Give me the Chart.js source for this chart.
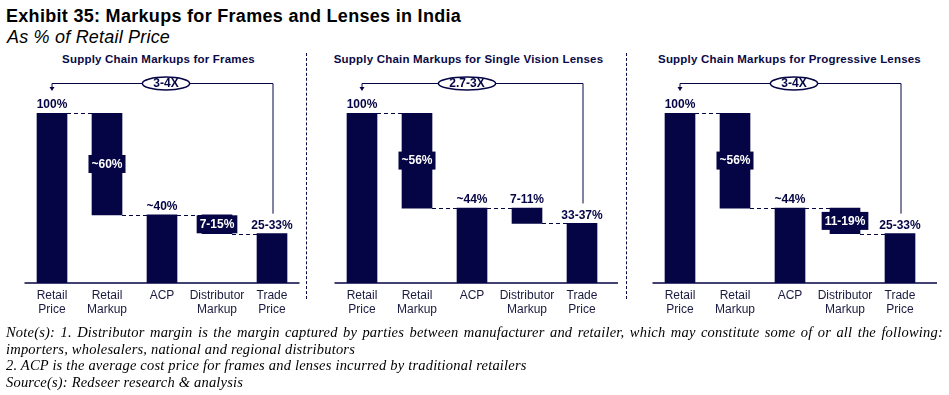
<!DOCTYPE html>
<html>
<head>
<meta charset="UTF-8">
<script src="https://cdn.jsdelivr.net/npm/chart.js@4"></script>
<style>
  body { margin: 0; width: 949px; height: 395px; background: #fff; position: relative; overflow: hidden; font-family: "Liberation Sans", Arial, sans-serif; }
  .title { position: absolute; left: 6px; top: 6px; font-size: 18px; letter-spacing: 0.3px; font-weight: bold; color: #000; }
  .subtitle { position: absolute; left: 7px; top: 27px; font-size: 18px; letter-spacing: 0.2px; font-style: italic; color: #000; }
  .ptitle { position: absolute; top: 53px; font-size: 11.5px; letter-spacing: 0.2px; font-weight: bold; color: #0a0a46; text-align: center; }
  .panel { position: absolute; top: 50px; height: 277px; }
  .divider { position: absolute; top: 53px; height: 246px; border-left: 1.5px dashed #0a0a46; }
  .notes { position: absolute; left: 6px; top: 324px; width: 937px; font-family: "Liberation Serif", "Times New Roman", serif; font-style: italic; font-size: 14.5px; letter-spacing: 0.2px; line-height: 16.7px; color: #000; }
  .notes .j { text-align: justify; text-align-last: justify; white-space: nowrap; }
</style>
</head>
<body>
<div class="title">Exhibit 35: Markups for Frames and Lenses in India</div>
<div class="subtitle">As % of Retail Price</div>

<div class="ptitle" style="left:0; width:317px;">Supply Chain Markups for Frames</div>
<div class="ptitle" style="left:310px; width:317px;">Supply Chain Markups for Single Vision Lenses</div>
<div class="ptitle" style="left:630px; width:319px;">Supply Chain Markups for Progressive Lenses</div>

<div class="panel" style="left:0; width:307px;"><canvas id="c1"></canvas></div>
<div class="panel" style="left:307px; width:320px;"><canvas id="c2"></canvas></div>
<div class="panel" style="left:627px; width:322px;"><canvas id="c3"></canvas></div>

<div class="divider" style="left:306px;"></div>
<div class="divider" style="left:626px;"></div>

<div class="notes">
  <div class="j">Note(s): 1. Distributor margin is the margin captured by parties between manufacturer and retailer, which may constitute some of or all the following:</div>
  <div>importers, wholesalers, national and regional distributors</div>
  <div>2. ACP is the average cost price for frames and lenses incurred by traditional retailers</div>
  <div>Source(s): Redseer research &amp; analysis</div>
</div>

<script>
const categories = [['Retail', 'Price'], ['Retail', 'Markup'], 'ACP', ['Distributor', 'Markup'], ['Trade', 'Price']];

// floating bars [low, high] as % of retail price
const framesBars = [[0, 100], [40, 100], [0, 40], [29, 40], [0, 29]];
const singleVisionBars = [[0, 100], [44, 100], [0, 44], [35, 44], [0, 35]];
const progressiveBars = [[0, 100], [44, 100], [0, 44], [29, 44], [0, 29]];

const framesLabels = ['100%', '~60%', '~40%', '7-15%', '25-33%'];
const singleVisionLabels = ['100%', '~56%', '~44%', '7-11%', '33-37%'];
const progressiveLabels = ['100%', '~56%', '~44%', '11-19%', '25-33%'];

// 'top' = text above bar, 'box' = white text in navy box on the bar
const framesLabelStyle = ['top', 'box', 'top', 'box', 'top'];
const singleVisionLabelStyle = ['top', 'box', 'top', 'top', 'top'];
const progressiveLabelStyle = ['top', 'box', 'top', 'box', 'top'];

const multiples = ['3-4X', '2.7-3X', '3-4X'];

const NAVY = '#050545';
const FONT = '"Liberation Sans", Arial, sans-serif';

const waterfallPlugin = {
  id: 'waterfall',
  afterDatasetsDraw(chart, args, opts) {
    const ctx = chart.ctx;
    const ys = chart.scales.y;
    const meta = chart.getDatasetMeta(0);
    const bars = chart.data.datasets[0].data;
    const area = chart.chartArea;
    ctx.save();

    // baseline
    ctx.strokeStyle = NAVY;
    ctx.lineWidth = 1.5;
    ctx.beginPath();
    ctx.moveTo(area.left, area.bottom);
    ctx.lineTo(area.right + opts.axisExt, area.bottom);
    ctx.stroke();

    // dashed connectors
    ctx.lineWidth = 1;
    ctx.setLineDash([4, 3]);
    for (let i = 0; i < bars.length - 1; i++) {
      const a = bars[i], b = bars[i + 1];
      const level = [a[0], a[1]].find(v => v === b[0] || v === b[1]);
      if (level === undefined) continue;
      const y = Math.round(ys.getPixelForValue(level)) + 0.5;
      const e1 = meta.data[i], e2 = meta.data[i + 1];
      ctx.beginPath();
      ctx.moveTo(e1.x + e1.width / 2, y);
      ctx.lineTo(e2.x - e2.width / 2, y);
      ctx.stroke();
    }
    ctx.setLineDash([]);

    // value labels
    ctx.font = 'bold 12px ' + FONT;
    ctx.textAlign = 'center';
    ctx.textBaseline = 'middle';
    meta.data.forEach((el, i) => {
      const txt = opts.labels[i];
      const top = ys.getPixelForValue(bars[i][1]);
      const bot = ys.getPixelForValue(bars[i][0]);
      if (opts.styles[i] === 'box') {
        const w = ctx.measureText(txt).width + 6;
        const cy = (top + bot) / 2;
        ctx.fillStyle = NAVY;
        ctx.fillRect(el.x - w / 2, cy - 9, w, 18);
        ctx.fillStyle = '#fff';
        ctx.fillText(txt, el.x, cy + 0.5);
      } else {
        ctx.fillStyle = NAVY;
        ctx.fillText(txt, el.x, top - 8);
      }
    });

    // bracket with multiple
    const first = meta.data[0], last = meta.data[meta.data.length - 1];
    const yb = 33.5;
    const yEnd = ys.getPixelForValue(bars[bars.length - 1][1]) - 20;
    ctx.strokeStyle = NAVY;
    ctx.lineWidth = 1;
    ctx.beginPath();
    ctx.moveTo(first.x, 38);
    ctx.lineTo(first.x, yb);
    ctx.lineTo(last.x + 1, yb);
    ctx.lineTo(last.x + 1, yEnd);
    ctx.stroke();
    ctx.fillStyle = NAVY;
    ctx.beginPath();
    ctx.moveTo(first.x - 2.5, 37);
    ctx.lineTo(first.x + 2.5, 37);
    ctx.lineTo(first.x, 41);
    ctx.closePath();
    ctx.fill();

    const mx = meta.data[2].x + opts.ovalShift;
    const tw = ctx.measureText(opts.multiple).width;
    const rx = tw / 2 + 11, ry = 6.5;
    ctx.beginPath();
    ctx.ellipse(mx, yb, rx, ry, 0, 0, Math.PI * 2);
    ctx.fillStyle = '#fff';
    ctx.fill();
    ctx.lineWidth = 1.5;
    ctx.stroke();
    ctx.fillStyle = NAVY;
    ctx.fillText(opts.multiple, mx, yb + 0.5);
    ctx.restore();
  }
};

function makeChart(id, bars, labels, styles, multiple, pad, axisExt, ovalShift) {
  return new Chart(document.getElementById(id), {
    type: 'bar',
    data: {
      labels: categories,
      datasets: [{
        data: bars,
        backgroundColor: NAVY,
        borderWidth: 0,
        barThickness: 30
      }]
    },
    options: {
      responsive: true,
      maintainAspectRatio: false,
      animation: false,
      layout: { padding: { top: 63, bottom: 4, left: pad[0], right: pad[1] } },
      plugins: {
        legend: { display: false },
        tooltip: { enabled: false },
        waterfall: { labels: labels, styles: styles, multiple: multiple, axisExt: axisExt, ovalShift: ovalShift }
      },
      scales: {
        x: {
          grid: { display: false, drawTicks: false },
          border: { display: false },
          ticks: {
            color: '#1a1a40',
            padding: 6,
            maxRotation: 0,
            autoSkip: false,
            font: { family: FONT, size: 12, lineHeight: 1.17 }
          }
        },
        y: { display: false, min: 0, max: 100 }
      }
    },
    plugins: [waterfallPlugin]
  });
}

makeChart('c1', framesBars, framesLabels, framesLabelStyle, multiples[0], [24.5, 7.5], 0, 4);
makeChart('c2', singleVisionBars, singleVisionLabels, singleVisionLabelStyle, multiples[1], [27.5, 17.5], 8.5, -5);
makeChart('c3', progressiveBars, progressiveLabels, progressiveLabelStyle, multiples[2], [25.5, 21.5], 9.5, 4);
</script>
</body>
</html>
